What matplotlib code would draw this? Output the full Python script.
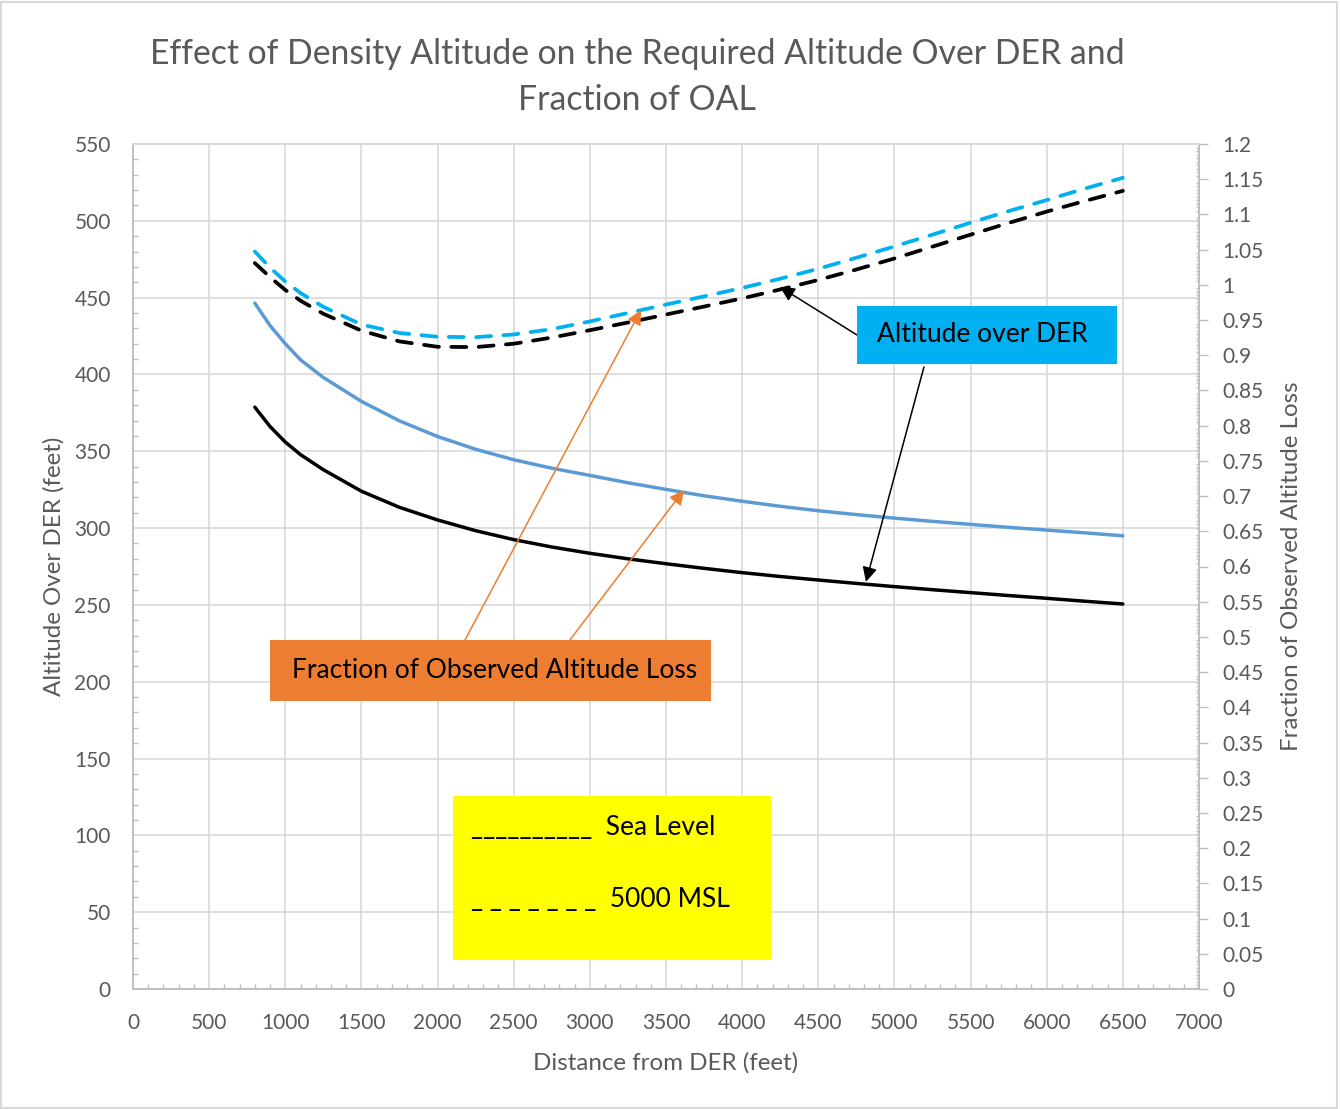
import matplotlib
matplotlib.use("Agg")
import matplotlib.pyplot as plt
from matplotlib.patches import Rectangle
from matplotlib.ticker import MultipleLocator, FuncFormatter

plt.rcParams['font.family'] = ['Lato', 'DejaVu Sans']

# data
dist = [800, 900, 1000, 1100, 1250, 1500, 1750, 2000, 2250, 2500, 2750, 3000, 3250,
        3500, 3750, 4000, 4250, 4500, 4750, 5000, 5250, 5500, 5750, 6000, 6250, 6500]
# altitude over DER (feet), left axis
alt_sea = [378.7, 366.1, 356, 347.8, 338, 324, 313.5, 305.3, 298.3, 292.5, 287.7, 283.6, 280,
           276.8, 273.8, 271, 268.5, 266.2, 264, 261.9, 259.9, 258, 256.1, 254.3, 252.4, 250.6]
alt_5000 = [472.5, 463.3, 455, 448, 439.5, 428.5, 421.5, 418, 417.8, 420, 424, 428.8, 433.8,
            439, 444.2, 449.5, 455.3, 461.5, 468.3, 475.5, 483.2, 491, 498.6, 506, 512.9, 519.5]
# fraction of observed altitude loss, right axis
frac_sea = [0.9740, 0.9421, 0.9164, 0.8935, 0.8684, 0.8345, 0.8068, 0.7846, 0.7665, 0.7516,
            0.7396, 0.7294, 0.7189, 0.7095, 0.7004, 0.6927, 0.6855, 0.6792, 0.6737, 0.6687,
            0.6641, 0.6598, 0.6556, 0.6517, 0.6478, 0.6436]
frac_5000 = [1.0473, 1.0244, 1.0047, 0.9884, 0.9687, 0.9436, 0.9316, 0.9262, 0.9257, 0.9295,
             0.9371, 0.9480, 0.9600, 0.9720, 0.9836, 0.9956, 1.0087, 1.0228, 1.0385, 1.0545,
             1.0713, 1.0883, 1.1047, 1.1204, 1.1367, 1.1520]

title = "Effect of Density Altitude on the Required Altitude Over DER and\nFraction of OAL"
gray = '#595959'
grid_c = '#d9d9d9'
axis_c = '#bfbfbf'

fig = plt.figure(figsize=(13.4, 11.09), dpi=100)
ax = fig.add_axes([133/1340, 1 - 989/1109, (1199-133)/1340, (989-144)/1109])
ax2 = ax.twinx()

dash = (0, (4.0, 3.3))
ax.plot(dist, alt_sea, color='black', lw=2.5, solid_capstyle='round', solid_joinstyle='round', zorder=3)
ax.plot(dist, alt_5000, color='black', lw=2.7, linestyle=dash, dash_capstyle='round', zorder=3)
ax2.plot(dist, frac_sea, color='#5B9BD5', lw=2.5, solid_capstyle='round', solid_joinstyle='round', zorder=3)
ax2.plot(dist, frac_5000, color='#00B0F0', lw=2.7, linestyle=dash, dash_capstyle='round', zorder=3)

ax.set_xlim(0, 7000)
ax.set_ylim(0, 550)
ax2.set_ylim(0, 1.2)

ax.xaxis.set_major_locator(MultipleLocator(500))
ax.xaxis.set_minor_locator(MultipleLocator(100))
ax.yaxis.set_major_locator(MultipleLocator(50))
ax.yaxis.set_minor_locator(MultipleLocator(10))
ax2.yaxis.set_major_locator(MultipleLocator(0.05))
ax2.yaxis.set_minor_locator(MultipleLocator(0.005))
ax2.yaxis.set_major_formatter(FuncFormatter(lambda v, p: '{:g}'.format(round(v, 3))))

ax.grid(True, which='major', color=grid_c, lw=1.2)
ax.set_axisbelow(True)

for a in (ax, ax2):
    for s in a.spines.values():
        s.set_color(axis_c)
        s.set_linewidth(1.2)
    a.spines['top'].set_color(grid_c)

ax.tick_params(axis='both', which='major', length=0, labelsize=15, labelcolor=gray)
ax.tick_params(axis='y', which='major', pad=16)
ax.tick_params(axis='x', which='major', pad=17)
ax.tick_params(axis='both', which='minor', direction='in', length=3.5, color=axis_c, width=1)
ax2.tick_params(axis='y', which='major', direction='out', length=6.5, color=axis_c, width=1,
                labelsize=15, labelcolor=gray, pad=10)
ax2.tick_params(axis='y', which='minor', direction='in', length=2.5, color=axis_c, width=1)

ax.set_xlabel("Distance from DER (feet)", fontsize=17.4, color=gray, labelpad=14)
ax.set_ylabel("Altitude Over DER (feet)", fontsize=17.4, color=gray, labelpad=7)
ax2.set_ylabel("Fraction of Observed Altitude Loss", fontsize=17.4, color=gray, labelpad=13)

fig.text(637/1340, 1 - 77/1109, title, ha='center', va='center', fontsize=24.3,
         color=gray, linespacing=1.56)

# callout boxes (in left-axis data units)
tr = ax.transData
boxes = [
    (4754, 406.8, 1707, 37.8, '#00B0F0', "Altitude over DER", -30),
    (900, 187.5, 2895, 39.7, '#ED7D31', "Fraction of Observed Altitude Loss", 25),
]
for x0, y0, w, h, fc, label, dx in boxes:
    ax2.add_patch(Rectangle((x0, y0), w, h, transform=tr, facecolor=fc, edgecolor='none',
                            zorder=5, clip_on=False))
    ax2.text(x0 + w/2 + dx, y0 + h/2, label, transform=tr, ha='center', va='center',
             fontsize=19, color='black', zorder=6)

ax2.add_patch(Rectangle((2101, 18.9), 2088, 106.7, transform=tr, facecolor='#FFFF00',
                        edgecolor='none', zorder=5, clip_on=False))
ax2.text(2219, 105, "__________  Sea Level", transform=tr, ha='left', va='center',
         fontsize=19, color='black', zorder=6)
ax2.text(2219, 58, "_ _ _ _ _ _ _  5000 MSL", transform=tr, ha='left', va='center',
         fontsize=19, color='black', zorder=6)

arrows = [
    ((4754, 425.7), (4248, 457), 'black'),
    ((5194, 404.9), (4813, 265), 'black'),
    ((2180, 227.2), (3336, 442), '#ED7D31'),
    ((2869, 227.2), (3618, 324.8), '#ED7D31'),
]
for tail, head, c in arrows:
    ax2.annotate('', xy=head, xytext=tail, xycoords=tr, textcoords=tr,
                 arrowprops=dict(arrowstyle='-|>', color=c, lw=1.1, mutation_scale=22,
                                 shrinkA=0, shrinkB=0), zorder=4)

fig.patches.append(Rectangle((0.001, 0.001), 0.997, 0.997, transform=fig.transFigure,
                             fill=False, edgecolor=grid_c, lw=1.5))

fig.savefig('out.png', dpi=100)
